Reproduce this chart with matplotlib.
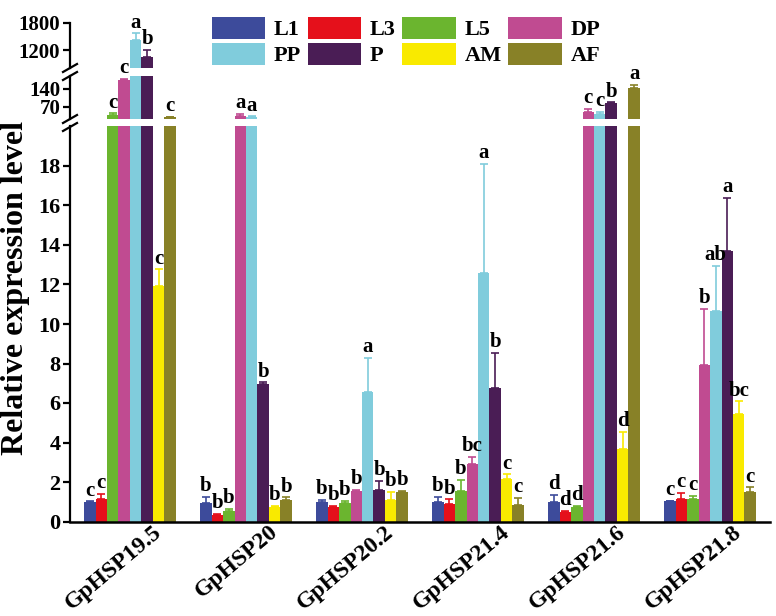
import matplotlib
matplotlib.use("Agg")
import matplotlib.pyplot as plt
import matplotlib.transforms as mtransforms
from matplotlib.lines import Line2D
from matplotlib.patches import Patch
import numpy as np

plt.rcParams['font.family'] = 'serif'
plt.rcParams['font.serif'] = ['Liberation Serif', 'DejaVu Serif']
plt.rcParams['font.weight'] = 'bold'

genes = ['GpHSP19.5', 'GpHSP20', 'GpHSP20.2', 'GpHSP21.4', 'GpHSP21.6', 'GpHSP21.8']

# mean, upper error, significance letters per stage
L1_val = [0.99, 0.95, 0.97, 0.97, 0.99, 1.02]
L1_err = [0.03, 0.31, 0.12, 0.29, 0.35, 0.02]
L1_sig = ['c', 'b', 'b', 'b', 'd', 'c']

L3_val = [1.14, 0.35, 0.72, 0.89, 0.50, 1.12]
L3_err = [0.25, 0.02, 0.08, 0.23, 0.03, 0.34]
L3_sig = ['c', 'b', 'b', 'b', 'd', 'c']

L5_val = [39, 0.55, 0.95, 1.56, 0.72, 1.12]
L5_err = [6, 0.08, 0.10, 0.56, 0.08, 0.19]
L5_sig = ['c', 'b', 'b', 'b', 'd', 'c']

DP_val = [175, 36, 1.56, 2.90, 52, 7.90]
DP_err = [3, 8, 0.04, 0.38, 10, 2.88]
DP_sig = ['c', 'a', 'b', 'bc', 'c', 'b']

PP_val = [1422, 30, 6.58, 12.60, 43, 10.65]
PP_err = [150, 3, 1.72, 5.50, 9, 2.28]
PP_sig = ['a', 'a', 'a', 'a', 'c', 'ab']

P_val = [1050, 6.94, 1.59, 6.77, 84, 13.72]
P_err = [150, 0.11, 0.46, 1.77, 4, 2.65]
P_sig = ['b', 'b', 'b', 'b', 'b', 'a']

AM_val = [11.90, 0.75, 1.09, 2.13, 3.67, 5.45]
AM_err = [0.86, 0.05, 0.42, 0.26, 0.88, 0.63]
AM_sig = ['c', 'b', 'b', 'c', 'd', 'bc']

AF_val = [30, 1.07, 1.48, 0.84, 143, 1.51]
AF_err = [2, 0.16, 0.08, 0.35, 12, 0.22]
AF_sig = ['c', 'b', 'b', 'c', 'a', 'c']

stages = ['L1', 'L3', 'L5', 'DP', 'PP', 'P', 'AM', 'AF']
colors = ['#3D4B9B', '#E5101B', '#6BB52F', '#C04B91', '#80CCDC', '#4A1D55', '#F9EA00', '#888127']
series = [(L1_val, L1_err, L1_sig), (L3_val, L3_err, L3_sig), (L5_val, L5_err, L5_sig),
          (DP_val, DP_err, DP_sig), (PP_val, PP_err, PP_sig), (P_val, P_err, P_sig),
          (AM_val, AM_err, AM_sig), (AF_val, AF_err, AF_sig)]

W, H = 776, 616
fig = plt.figure(figsize=(W / 100, H / 100), dpi=100)

x0, x1 = 70, 770
ax_bot = fig.add_axes([x0 / W, (H - 521.5) / H, (x1 - x0) / W, 395 / H])
ax_mid = fig.add_axes([x0 / W, (H - 119) / H, (x1 - x0) / W, 43 / H])
ax_top = fig.add_axes([x0 / W, (H - 68) / H, (x1 - x0) / W, 45 / H])
# letters of the middle part may reach into the top part
ax_top.set_zorder(1)
ax_mid.set_zorder(2)

segments = [(ax_bot, 0, 20), (ax_mid, 23, 190), (ax_top, 800, 1800)]

x = np.arange(len(genes))
w = 0.099

for ax, lo, hi in segments:
    ax.set_ylim(lo, hi)
    ax.set_xlim(-0.517, 5.517)
    ax.patch.set_alpha(0)
    for j, (vals, errs, sigs) in enumerate(series):
        xs = x + (j - 3.5) * w
        v = np.array(vals, float)
        e = np.array(errs, float)
        ax.bar(xs, v, w, color=colors[j], edgecolor='none')
        m = (v + e > lo) & (v + e <= hi)
        if m.any():
            ax.errorbar(xs[m], v[m], yerr=[np.zeros(m.sum()), e[m]], fmt='none',
                        ecolor=colors[j], elinewidth=1.2, capsize=3.2, capthick=1.2)
        for i in np.where(m)[0]:
            ax.annotate(sigs[i], (xs[i], v[i] + e[i]), xytext=(0, 0.5),
                        textcoords='offset points', ha='center', va='bottom',
                        fontsize=15, fontweight='bold')
    ax.spines['top'].set_visible(False)
    ax.spines['right'].set_visible(False)
    ax.spines['left'].set_linewidth(1.6)
    ax.tick_params(axis='y', direction='out', length=5, width=1.6, labelsize=16, pad=2)

for ax in (ax_mid, ax_top):
    ax.spines['bottom'].set_visible(False)
    ax.set_xticks([])
    ax.tick_params(axis='y', labelsize=15)

ax_bot.spines['bottom'].set_linewidth(1.8)
ax_bot.set_yticks(np.arange(0, 19, 2))
ax_mid.set_yticks([70, 140])
ax_top.set_yticks([1200, 1800])
ax_bot.set_xticks(x)
ax_bot.set_xticklabels(genes, rotation=40, ha='right', va='top',
                       fontsize=17, fontweight='bold')
ax_bot.tick_params(axis='x', length=0, pad=0)
shift = mtransforms.ScaledTranslation(36 / 100, 0, fig.dpi_scale_trans)
for lab in ax_bot.get_xticklabels():
    lab.set_transform(lab.get_transform() + shift)
for ax in (ax_bot, ax_mid, ax_top):
    for lab in ax.get_yticklabels():
        lab.set_fontweight('bold')

# axis break marks
for yb, yt in ((68, 76), (119, 127)):
    for yy in (yb, yt):
        fig.add_artist(Line2D([(x0 - 7) / W, (x0 + 7) / W],
                              [(H - yy - 4) / H, (H - yy + 4) / H],
                              color='black', lw=1.6))

fig.text(16 / W, (H - 288) / H, 'Relative expression level', rotation=90,
         ha='center', va='center', fontsize=23, fontweight='bold')

order = [0, 4, 1, 5, 2, 6, 3, 7]
handles = [Patch(facecolor=colors[k], edgecolor='none') for k in order]
fig.legend(handles, [stages[k] for k in order], ncol=4, frameon=False,
           loc='upper left', bbox_to_anchor=(196 / W, 1 - 1 / H),
           prop={'weight': 'bold', 'size': 16}, handlelength=2.4, handleheight=1.15,
           handletextpad=0.4, columnspacing=0.3, labelspacing=0.12, borderpad=0.2)

fig.savefig('out.png', dpi=100)
